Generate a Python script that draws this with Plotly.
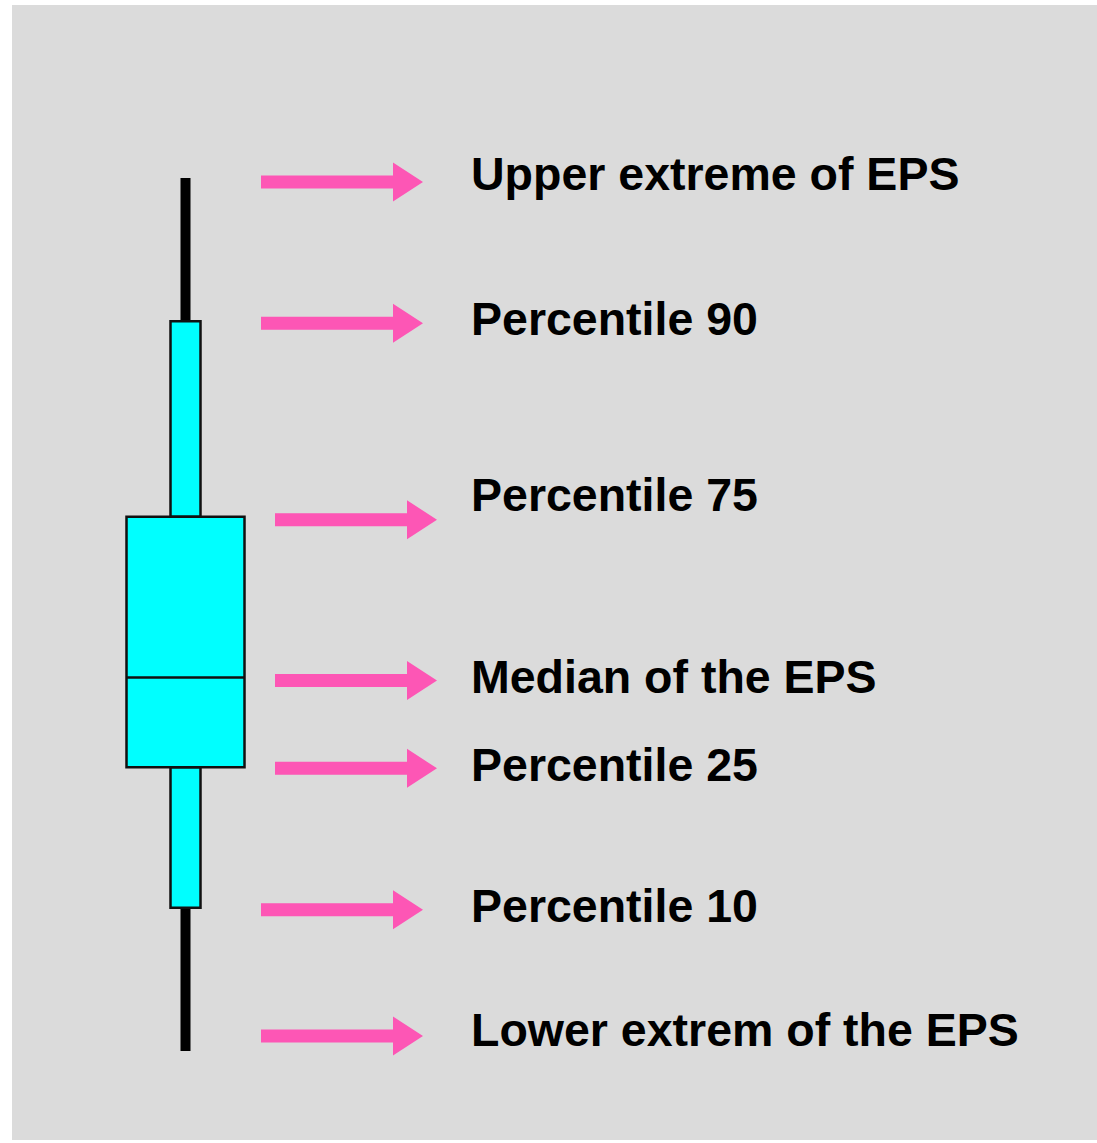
import plotly.graph_objects as go

# ---- data (EPS distribution summary, arbitrary units) ----
stat_names = ["Upper extreme of EPS", "Percentile 90", "Percentile 75",
              "Median of the EPS", "Percentile 25", "Percentile 10",
              "Lower extrem of the EPS"]
stat_values = [100.0, 83.6, 61.2, 42.8, 32.5, 16.4, 0.0]

upper_extreme = stat_values[0]
p90 = stat_values[1]
p75 = stat_values[2]
median = stat_values[3]
p25 = stat_values[4]
p10 = stat_values[5]
lower_extreme = stat_values[6]

# ---- layout / style constants ----
W, H = 1097, 1143
M_L, M_R, M_T, M_B = 12, 0, 5, 3
Y_RANGE = [-10.19, 119.82]
X_RANGE = [12, 1097]
plot_h = H - M_T - M_B
PX = plot_h / (Y_RANGE[1] - Y_RANGE[0])  # pixels per data unit

BG = "#dbdbdb"
PINK = "#fd56b5"
CYAN = "#00ffff"
CX = 185.5

# arrow pixel offsets (down positive) from each stat level, arrow x extents
arrow_off_px = [4, 2, 3, 3, 1, 2, -15]
arrow_x0 = [261, 261, 275, 275, 275, 261, 261]
ARROW_LEN = 162
HEAD_LEN = 30
HEAD_H = 39
SHAFT_H = 13
# label offset (px, down positive) relative to arrow
label_off_px = [-8, -4, -25, -3, -3, -4, -6]
LABEL_X = 469

fig = go.Figure()

# whisker line
fig.add_trace(go.Bar(x=[CX], y=[upper_extreme - lower_extreme], base=[lower_extreme],
                     width=10, marker=dict(color="black", line=dict(width=0)),
                     hoverinfo="skip", showlegend=False))
# percentile 10-25 and 75-90 thin boxes
fig.add_trace(go.Bar(x=[CX, CX], y=[p25 - p10, p90 - p75], base=[p10, p75],
                     width=30, marker=dict(color=CYAN, line=dict(color="#111111", width=2.5)),
                     hoverinfo="skip", showlegend=False))
# interquartile box
fig.add_trace(go.Bar(x=[CX], y=[p75 - p25], base=[p25],
                     width=118, marker=dict(color=CYAN, line=dict(color="#111111", width=2.5)),
                     hoverinfo="skip", showlegend=False))
# median line
fig.add_trace(go.Scatter(x=[CX - 59, CX + 59], y=[median, median], mode="lines",
                         line=dict(color="#111111", width=2.5),
                         hoverinfo="skip", showlegend=False))

shapes = []
annotations = []
for i, (name, v) in enumerate(zip(stat_names, stat_values)):
    ay = v - arrow_off_px[i] / PX
    x0 = arrow_x0[i]
    xb = x0 + ARROW_LEN - HEAD_LEN
    xt = x0 + ARROW_LEN
    sh = SHAFT_H / 2 / PX
    hh = HEAD_H / 2 / PX
    path = (f"M {x0},{ay - sh} L {xb},{ay - sh} L {xb},{ay - hh} L {xt},{ay} "
            f"L {xb},{ay + hh} L {xb},{ay + sh} L {x0},{ay + sh} Z")
    shapes.append(dict(type="path", path=path, xref="x", yref="y",
                       fillcolor=PINK, line=dict(width=0)))
    ly = ay - label_off_px[i] / PX
    annotations.append(dict(x=LABEL_X, y=ly, xref="x", yref="y", text=name,
                            showarrow=False, xanchor="left", yanchor="middle",
                            font=dict(family="Liberation Sans, Arial",
                                      size=46.5, color="black", weight="bold")))

fig.update_layout(
    width=W, height=H,
    margin=dict(l=M_L, r=M_R, t=M_T, b=M_B, pad=0),
    paper_bgcolor="white", plot_bgcolor=BG,
    barmode="overlay",
    xaxis=dict(range=X_RANGE, visible=False, fixedrange=True),
    yaxis=dict(range=Y_RANGE, visible=False, fixedrange=True),
    shapes=shapes, annotations=annotations,
)

fig.write_html("out.html", config={"displayModeBar": False},
               post_script="document.body.style.margin='0';document.body.style.overflow='hidden';")
